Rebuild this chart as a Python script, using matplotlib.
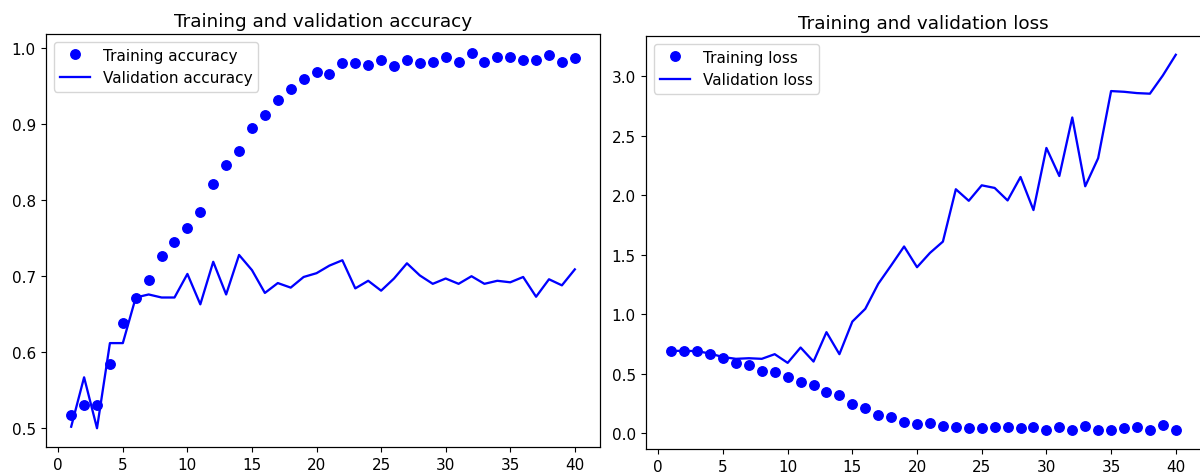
import matplotlib
matplotlib.use("Agg")
import matplotlib.pyplot as plt

epochs = list(range(1, 41))

acc = [0.517, 0.531, 0.531, 0.585, 0.639, 0.671, 0.695, 0.727, 0.745, 0.763,
       0.784, 0.821, 0.846, 0.865, 0.895, 0.912, 0.932, 0.946, 0.959, 0.969,
       0.966, 0.980, 0.980, 0.978, 0.984, 0.976, 0.984, 0.980, 0.982, 0.989,
       0.982, 0.994, 0.982, 0.989, 0.989, 0.984, 0.984, 0.991, 0.982, 0.987]

val_acc = [0.502, 0.567, 0.500, 0.612, 0.612, 0.672, 0.676, 0.672, 0.672, 0.703,
           0.663, 0.719, 0.676, 0.728, 0.708, 0.678, 0.691, 0.685, 0.699, 0.704,
           0.714, 0.721, 0.684, 0.694, 0.681, 0.697, 0.717, 0.701, 0.690, 0.697,
           0.690, 0.700, 0.690, 0.694, 0.692, 0.699, 0.673, 0.696, 0.688, 0.709]

loss = [0.692, 0.692, 0.692, 0.669, 0.636, 0.591, 0.569, 0.521, 0.513, 0.476,
        0.434, 0.401, 0.345, 0.317, 0.244, 0.210, 0.154, 0.132, 0.098, 0.081,
        0.084, 0.064, 0.053, 0.042, 0.042, 0.053, 0.053, 0.042, 0.053, 0.025,
        0.053, 0.025, 0.064, 0.025, 0.025, 0.042, 0.053, 0.025, 0.070, 0.025]

val_loss = [0.692, 0.692, 0.690, 0.669, 0.640, 0.625, 0.630, 0.625, 0.664, 0.591,
            0.720, 0.602, 0.849, 0.664, 0.938, 1.045, 1.255, 1.410, 1.569, 1.395,
            1.515, 1.610, 2.050, 1.953, 2.083, 2.061, 1.956, 2.153, 1.875, 2.397,
            2.161, 2.653, 2.075, 2.311, 2.875, 2.869, 2.858, 2.853, 3.006, 3.180]

# screenshot was a bit larger than 100 dpi, scale things up
s = 1.1
plt.rcParams.update({
    "font.size": 10 * s,
    "axes.titlesize": 12 * s,
    "lines.linewidth": 1.5 * s,
    "lines.markersize": 6.2 * s,
    "axes.linewidth": 0.8 * s,
    "xtick.major.size": 3.5 * s,
    "ytick.major.size": 3.5 * s,
})

fig = plt.figure(figsize=(12, 4.77), dpi=100)
ax1 = fig.add_axes([46 / 1200, 29 / 477, 554 / 1200, 413 / 477])
ax2 = fig.add_axes([646 / 1200, 27 / 477, 555 / 1200, 413 / 477])

ax1.plot(epochs, acc, "bo", label="Training accuracy")
ax1.plot(epochs, val_acc, "b", label="Validation accuracy")
ax1.set_title("Training and validation accuracy")
ax1.legend()

ax2.plot(epochs, loss, "bo", label="Training loss")
ax2.plot(epochs, val_loss, "b", label="Validation loss")
ax2.set_title("Training and validation loss")
ax2.legend()

fig.savefig("out.png", dpi=100)
